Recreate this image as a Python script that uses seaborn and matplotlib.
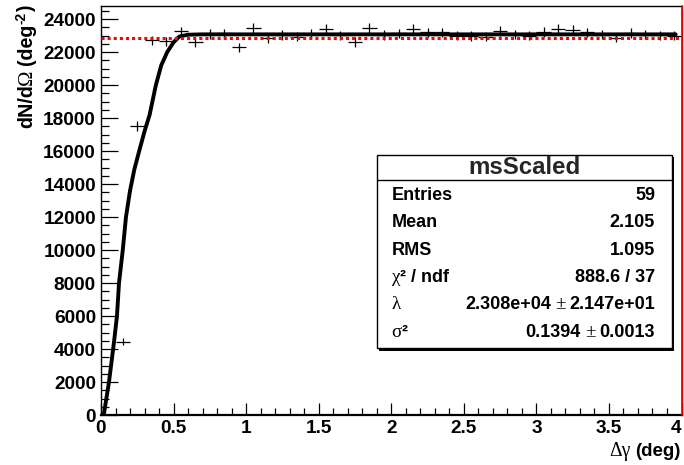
import matplotlib
matplotlib.use("Agg")
import matplotlib.pyplot as plt
import numpy as np
import pandas as pd
import seaborn as sns
from matplotlib.ticker import MultipleLocator, FuncFormatter
from matplotlib.patches import Rectangle
from matplotlib.lines import Line2D
from matplotlib.transforms import IdentityTransform

# ---- histogram "msScaled": bin centres, contents and errors ----
bin_centers = [0.15, 0.25, 0.35, 0.45, 0.55, 0.65, 0.75, 0.85, 0.95, 1.05,
               1.15, 1.25, 1.35, 1.45, 1.55, 1.65, 1.75, 1.85, 1.95, 2.05,
               2.15, 2.25, 2.35, 2.45, 2.55, 2.65, 2.75, 2.85, 2.95, 3.05,
               3.15, 3.25, 3.35, 3.45, 3.55, 3.65, 3.75, 3.85, 3.95]
counts = [4450, 17540, 22710, 22650, 23260, 22590, 23100, 23140, 22290, 23460,
          22850, 23050, 22940, 23130, 23430, 23020, 22610, 23460, 23050, 23140,
          23400, 23200, 23200, 23010, 22980, 22950, 23280, 23060, 23000, 23230,
          23400, 23330, 23200, 23060, 22880, 23170, 23070, 23020, 23010]
count_err = [230, 300, 300, 290, 290, 290, 290, 290, 290, 290,
             290, 290, 290, 290, 290, 290, 290, 290, 290, 290,
             290, 290, 290, 290, 290, 290, 290, 290, 290, 290,
             290, 290, 290, 290, 290, 290, 290, 290, 290]
bin_half_width = 0.05

# ---- fitted function, sampled ----
fit_x = [0.019, 0.055, 0.090, 0.110, 0.124, 0.150, 0.172, 0.200, 0.230, 0.263,
         0.300, 0.335, 0.378, 0.415, 0.456, 0.500, 0.540, 0.600, 0.700, 3.960]
fit_y = [0, 2000, 4450, 6000, 8000, 10000, 12000, 13600, 14900, 16000,
         17200, 18200, 20000, 21200, 22000, 22600, 22950, 23060, 23080, 23080]
reference_level = 22870

# ---- statistics box contents ----
hist_name = "msScaled"
entries = 59
mean = 2.105
rms = 1.095
chi2 = 888.6
ndf = 37
lam, lam_err = 2.308e4, 2.147e1
sigma2, sigma2_err = 0.1394, 0.0013

W, H = 684, 465
TICK_FONT = 13.7
sns.set_theme(style="ticks")
plt.rcParams["font.family"] = ["Liberation Sans", "DejaVu Sans"]
plt.rcParams["font.weight"] = "bold"

fig = plt.figure(figsize=(W / 100, H / 100), dpi=100, facecolor="white")
ax = fig.add_axes([101 / W, 1 - 415 / H, (681.5 - 101) / W, (415 - 6) / H])
ax.set_facecolor("white")

ax.errorbar(bin_centers, counts, xerr=bin_half_width, yerr=count_err,
            fmt="none", ecolor="black", elinewidth=0.9, capsize=0, zorder=2)

fit_df = pd.DataFrame({"x": fit_x, "y": fit_y})
sns.lineplot(data=fit_df, x="x", y="y", ax=ax, color="black", linewidth=2.8,
             sort=False, estimator=None, zorder=3)

ax.axhline(reference_level, color="#ff0000", linewidth=2.2,
           linestyle=(0, (1, 1)), zorder=4)
ax.axvline(4.0, color="#ff0000", linewidth=1.2, zorder=5, clip_on=False)

ax.set_xlim(0, 4)
ax.set_ylim(0, 24800)
ax.set_xlabel("")
ax.set_ylabel("")

ax.xaxis.set_major_locator(MultipleLocator(0.5))
ax.xaxis.set_minor_locator(MultipleLocator(0.1))
ax.yaxis.set_major_locator(MultipleLocator(2000))
ax.yaxis.set_minor_locator(MultipleLocator(500))
ax.xaxis.set_major_formatter(FuncFormatter(lambda v, p: f"{v:g}"))
ax.yaxis.set_major_formatter(FuncFormatter(lambda v, p: f"{v:.0f}"))

ax.tick_params(axis="both", which="both", direction="in", width=0.9,
               color="black", labelcolor="black", labelsize=TICK_FONT,
               top=False, right=False)
ax.tick_params(axis="y", which="major", length=12.5, pad=3.6)
ax.tick_params(axis="y", which="minor", length=6)
ax.tick_params(axis="x", which="major", length=8.5, pad=3.6)
ax.tick_params(axis="x", which="minor", length=4.8)

for side in ["left", "top", "right"]:
    ax.spines[side].set_color("black")
    ax.spines[side].set_linewidth(1.0)
ax.spines["bottom"].set_color("black")
ax.spines["bottom"].set_linewidth(1.6)

fig.canvas.draw()
for tick in ax.xaxis.get_major_ticks() + ax.yaxis.get_major_ticks():
    tick.label1.set_fontsize(TICK_FONT)
    tick.label1.set_fontweight("bold")
# the label at the right frame edge is kept inside the canvas
for tick in ax.xaxis.get_major_ticks():
    if abs(tick.get_loc() - 4.0) < 1e-9:
        tick.label1.set_horizontalalignment("right")
        tick.label1.set_x(4.0)

renderer = fig.canvas.get_renderer()
SANS = dict(family=["Liberation Sans", "DejaVu Sans"], weight="bold")
SYM = dict(family=["Liberation Serif", "DejaVu Serif"], weight="normal")


def place_runs(x, y, runs, align="right", rotation=0, size=13):
    """Lay out mixed-font text pieces along a common baseline.
    x, y are image pixels (origin top-left); for right alignment the
    point is the end of the string."""
    dx, dy = x, H - y
    seq = list(runs) if align == "left" else list(reversed(runs))
    sign = 1 if align == "left" else -1
    pos = 0.0
    for item in seq:
        if isinstance(item, (int, float)):
            pos += item
            continue
        text, props, rise, scale = item
        if rotation == 0:
            px, py = dx + sign * pos, dy + rise
        else:
            px, py = dx - rise, dy + sign * pos
        t = fig.text(px, py, text, transform=IdentityTransform(), ha=align,
                     va="baseline", rotation=rotation, rotation_mode="anchor",
                     fontsize=size * scale, color="black", zorder=10, **props)
        bb = t.get_window_extent(renderer)
        pos += bb.width if rotation == 0 else bb.height


# axis titles
place_runs(680, 456, [("Δγ", SYM, 0, 1.05), 4, ("(deg)", SANS, 0, 1.0)],
           align="right", size=13.5)
place_runs(32, 5, [("dN/d", SANS, 0, 1.0), ("Ω", SYM, 0, 1.05), 4,
                   ("(deg", SANS, 0, 1.0), ("-2", SANS, 7, 0.7),
                   (")", SANS, 0, 1.0)],
           align="right", rotation=90, size=14.2)

# statistics box
bx0, by0, bx1, by1 = 376.7, 155, 671.7, 348.3
fig.add_artist(Rectangle(((bx0 + 2.5) / W, 1 - (by1 + 2.5) / H),
                         (bx1 - bx0) / W, (by1 - by0) / H,
                         transform=fig.transFigure, facecolor="black",
                         edgecolor="black", linewidth=0, zorder=8))
fig.add_artist(Rectangle((bx0 / W, 1 - by1 / H), (bx1 - bx0) / W,
                         (by1 - by0) / H, transform=fig.transFigure,
                         facecolor="white", edgecolor="black", linewidth=1.0,
                         zorder=9))
fig.add_artist(Line2D([bx0 / W, bx1 / W], [1 - 180 / H, 1 - 180 / H],
                      transform=fig.transFigure, color="black",
                      linewidth=1.0, zorder=9))
fig.text((bx0 + bx1) / 2 / W, 1 - 174 / H, hist_name, ha="center",
         va="baseline", fontsize=17.3, zorder=10, **SANS)

row_base = [200, 227.3, 254.6, 281.9, 309.2, 336.5]
lx, rx = 391.7, 655
labels = [
    [("Entries", SANS, 0, 1.0)],
    [("Mean", SANS, 0, 1.0)],
    [("RMS", SANS, 0, 1.0)],
    [("χ", SYM, 0, 1.05), ("² / ndf", SANS, 0, 1.0)],
    [("λ", SYM, 0, 1.05)],
    [("σ", SYM, 0, 1.05), ("²", SANS, 0, 1.0)],
]
values = [
    [(f"{entries}", SANS, 0, 1.0)],
    [(f"{mean:.3f}", SANS, 0, 1.0)],
    [(f"{rms:.3f}", SANS, 0, 1.0)],
    [(f"{chi2:.1f} / {ndf}", SANS, 0, 1.0)],
    [(f"{lam:.3e}", SANS, 0, 1.0), 4, ("±", SYM, 0, 1.05), 4,
     (f"{lam_err:.3e}", SANS, 0, 1.0)],
    [(f"{sigma2:.4f}", SANS, 0, 1.0), 4, ("±", SYM, 0, 1.05), 4,
     (f"{sigma2_err:.4f}", SANS, 0, 1.0)],
]
for yb, lab, val in zip(row_base, labels, values):
    place_runs(lx, yb, lab, align="left", size=13)
    place_runs(rx, yb, val, align="right", size=13)

fig.savefig("out.png", dpi=100, facecolor="white")
